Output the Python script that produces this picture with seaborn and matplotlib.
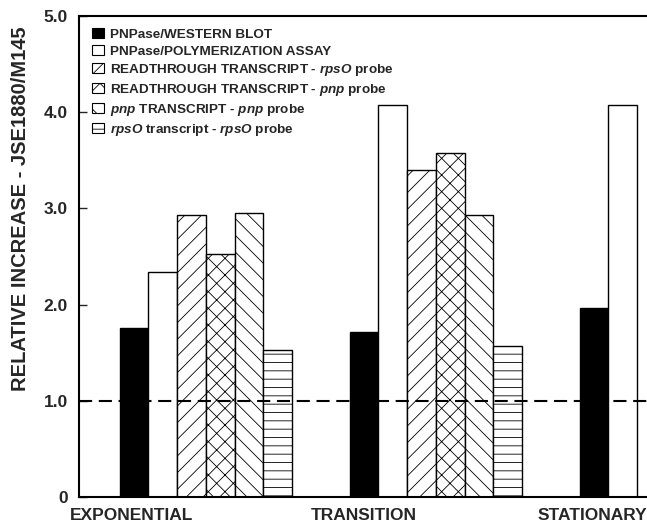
import matplotlib
matplotlib.use("Agg")
import matplotlib.pyplot as plt
from matplotlib.patches import Patch
import seaborn as sns
import pandas as pd

phases = ["EXPONENTIAL", "TRANSITION", "STATIONARY"]
series = [
    r"PNPase/WESTERN BLOT",
    r"PNPase/POLYMERIZATION ASSAY",
    r"READTHROUGH TRANSCRIPT - $\mathit{rpsO}$ probe",
    r"READTHROUGH TRANSCRIPT - $\mathit{pnp}$ probe",
    r"$\mathit{pnp}$ TRANSCRIPT - $\mathit{pnp}$ probe",
    r"$\mathit{rpsO}$ transcript - $\mathit{rpsO}$ probe",
]
exp_vals = [1.76, 2.34, 2.93, 2.53, 2.95, 1.53]
trans_vals = [1.71, 4.08, 3.40, 3.58, 2.93, 1.57]
stat_vals = [1.96, 4.08]
y_ticks = [0, 1.0, 2.0, 3.0, 4.0, 5.0]
y_tick_labels = ["0", "1.0", "2.0", "3.0", "4.0", "5.0"]

rows = []
for ph, vals in zip(phases, [exp_vals, trans_vals, stat_vals]):
    for s, v in zip(series, vals):
        rows.append({"phase": ph, "series": s, "value": v})
df = pd.DataFrame(rows)

sns.set_style("white")
plt.rcParams["font.family"] = ["Liberation Sans", "DejaVu Sans"]
plt.rcParams["font.weight"] = "bold"
plt.rcParams["mathtext.fontset"] = "custom"
plt.rcParams["mathtext.it"] = "Liberation Sans:italic:bold"
plt.rcParams["mathtext.rm"] = "Liberation Sans:bold"
plt.rcParams["hatch.linewidth"] = 0.6
plt.rcParams["hatch.color"] = "black"

facecolors = ["black", "white", "white", "white", "white", "white"]
hatches = ["", "", "//", "xx", "\\\\", "--"]

fig = plt.figure(figsize=(6.47, 5.23), dpi=100)
ax = fig.add_axes([79 / 647, 26 / 523, (700 - 79) / 647, 481 / 523])

sns.barplot(data=df, x="phase", y="value", hue="series", order=phases,
            hue_order=series, palette=facecolors, width=0.75,
            edgecolor="black", linewidth=1.0, saturation=1, ax=ax,
            legend=False)

for cont, h in zip(ax.containers, hatches):
    for p in cont:
        p.set_hatch(h)
        p.set_edgecolor("black")

ax.axhline(1.0, color="black", lw=1.5, ls=(0, (6.3, 3.2)), zorder=3)

ax.set_ylim(0, 5.0)
ax.set_xlim(-0.552, 2.148)
ax.set_yticks(y_ticks)
ax.set_yticklabels(y_tick_labels, fontsize=12.5, fontweight="bold")
ax.tick_params(axis="y", direction="in", length=6, width=1, left=True, pad=8)
ax.set_xticks([-0.322, 0.687, 1.68])
ax.set_xticklabels(phases, fontsize=12.5, fontweight="bold")
ax.tick_params(axis="x", length=0, pad=8)
ax.set_xlabel("")
ax.set_ylabel("RELATIVE INCREASE - JSE1880/M145", fontsize=14.5, fontweight="bold")
ax.yaxis.set_label_coords(-0.079, 0.60)

for side in ["left", "bottom", "top", "right"]:
    ax.spines[side].set_visible(True)
    ax.spines[side].set_color("black")
    ax.spines[side].set_linewidth(1.5)

handles = [Patch(facecolor=fc, edgecolor="black", hatch=h, linewidth=0.8)
           for fc, h in zip(facecolors, hatches)]
leg = ax.legend(handles, series, loc="upper left", bbox_to_anchor=(0.005, 0.995),
                frameon=False, fontsize=9.7, handlelength=0.9, handleheight=0.8,
                handletextpad=0.5, labelspacing=0.3, borderaxespad=0.3)
for t in leg.get_texts():
    t.set_fontweight("bold")

fig.savefig("out.png", dpi=100)
